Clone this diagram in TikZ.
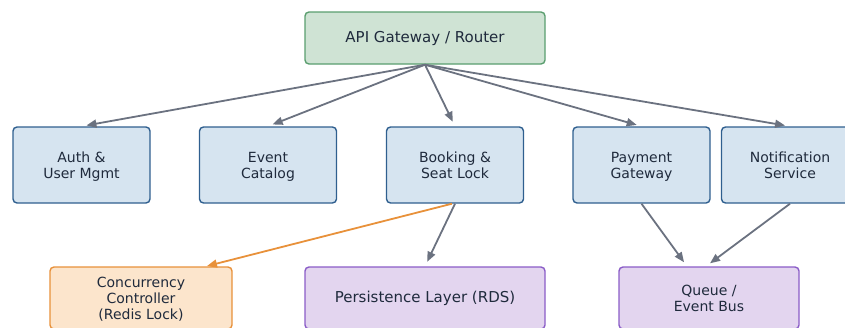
\documentclass[tikz,border=0pt]{standalone}
\usepackage{fontspec}
\setmainfont{DejaVu Sans}
\usetikzlibrary{arrows.meta,calc}
\definecolor{txt}{HTML}{1F2A3C}
\definecolor{bluefill}{HTML}{D6E4F0}
\definecolor{blueline}{HTML}{2F5F8F}
\definecolor{greenfill}{HTML}{CFE3D4}
\definecolor{greenline}{HTML}{5A9E6F}
\definecolor{orangefill}{HTML}{FCE5CC}
\definecolor{orangeline}{HTML}{E8913A}
\definecolor{purplefill}{HTML}{E3D5EF}
\definecolor{purpleline}{HTML}{8A5CC7}
\definecolor{arrowgray}{HTML}{6B7280}
\newcommand\ls{\rule[-3pt]{0pt}{16pt}}
\newcommand\lt{\rule[-2.5pt]{0pt}{15.5pt}}
\begin{document}
\begin{tikzpicture}[x=1pt,y=-1pt,
  box/.style={rectangle, rounded corners=4pt, line width=1.4pt, align=center,
    text=txt, inner sep=0pt, font=\fontsize{14}{16}\selectfont},
  svc/.style={box, draw=blueline, fill=bluefill, minimum width=137pt, minimum height=76pt},
  gw/.style={box, draw=greenline, fill=greenfill, minimum width=240pt, minimum height=52pt, font=\fontsize{15}{17}\selectfont},
  conc/.style={box, draw=orangeline, fill=orangefill, minimum width=182pt, minimum height=62pt, font=\fontsize{14}{15.5}\selectfont},
  store/.style={box, draw=purpleline, fill=purplefill, minimum height=62pt},
  conn/.style={draw=arrowgray, line width=1.8pt, -{Triangle[length=10pt,width=8pt]}, shorten >=5pt},
  oconn/.style={draw=orangeline, line width=1.8pt, -{Triangle[length=10pt,width=8pt]}, shorten >=1pt}
]
\useasboundingbox (0,0) rectangle (845,327);
\node[gw] (api) at (425,38) {\ls API Gateway / Router};
\node[svc] (auth) at (81.5,165) {\ls Auth \&\\\ls User Mgmt};
\node[svc] (event) at (268,165) {\ls Event\\\ls Catalog};
\node[svc] (book) at (455,165) {\ls Booking \&\\\ls Seat Lock};
\node[svc] (pay) at (641.5,165) {\ls Payment\\\ls Gateway};
\node[svc] (notif) at (790,165) {\ls Notification\\\ls Service};
\node[conc] (cc) at (141,298) {\lt Concurrency\\\lt Controller\\\lt (Redis Lock)};
\node[store, minimum width=240pt, font=\fontsize{15}{17}\selectfont] (pers) at (425,298) {\ls Persistence Layer (RDS)};
\node[store, minimum width=180pt, font=\fontsize{14}{16}\selectfont] (queue) at (709,298) {\ls Queue /\\\ls Event Bus};

\draw[conn] (api.south) -- (auth.north);
\draw[conn] (api.south) -- (event.north);
\draw[conn] (api.south) -- (book.north);
\draw[conn] (api.south) -- (pay.north);
\draw[conn] (api.south) -- (notif.north);
\draw[oconn] ($(book.south)+(-3,0)$) -- ($(cc.north)+(65,0)$);
\draw[conn] (book.south) -- (pers.north);
\draw[conn] (pay.south) -- ($(queue.north)+(-22,0)$);
\draw[conn] (notif.south) -- ($(queue.north)+(-3,0)$);
\end{tikzpicture}
\end{document}
